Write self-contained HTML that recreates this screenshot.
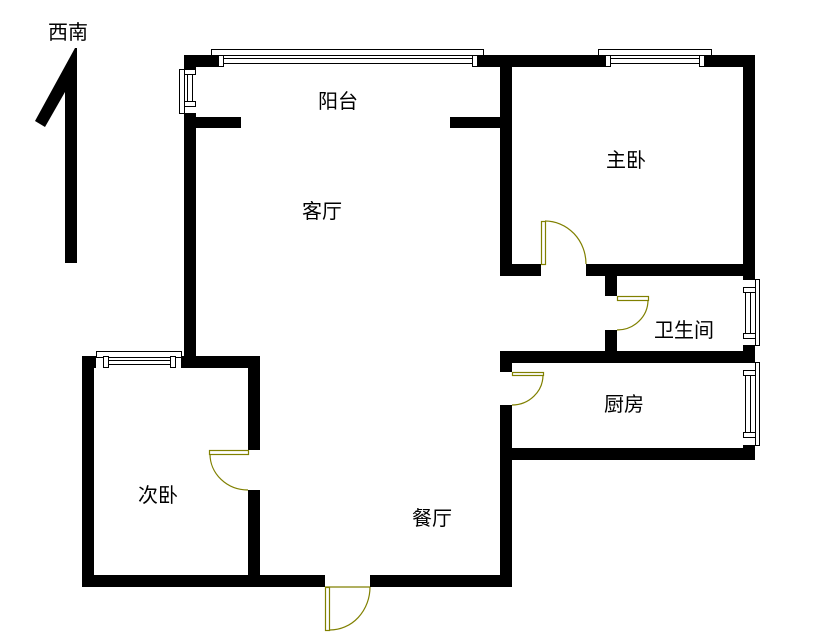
<!DOCTYPE html>
<html><head><meta charset="utf-8"><style>
html,body{margin:0;padding:0;background:#fff;width:823px;height:642px;overflow:hidden}
svg{display:block}
text{font-family:"Liberation Sans","Noto Sans CJK SC","WenQuanYi Zen Hei",sans-serif;font-size:20px;fill:#000}
</style></head><body>
<svg width="823" height="642" viewBox="0 0 823 642" xmlns="http://www.w3.org/2000/svg">
<!-- compass -->
<text x="48" y="39">西南</text>
<polygon points="75,48 77,48 77,263 65,263 65,92 45,127 35,121" fill="#000"/>

<g fill="#000">
<!-- top wall -->
<rect x="184" y="55" width="34" height="12"/>
<rect x="477" y="55" width="128" height="12"/>
<rect x="704" y="55" width="51" height="12"/>
<!-- left wall living -->
<rect x="184" y="55" width="12" height="14"/>
<rect x="184" y="113" width="12" height="255"/>
<!-- balcony stubs -->
<rect x="196" y="117" width="45" height="11"/>
<rect x="450" y="117" width="50" height="11"/>
<!-- balcony/master wall -->
<rect x="500" y="55" width="12" height="221"/>
<!-- master bottom -->
<rect x="500" y="264" width="41" height="12"/>
<rect x="586" y="264" width="169" height="12"/>
<!-- right wall -->
<rect x="743" y="55" width="12" height="225"/>
<rect x="743" y="345" width="12" height="18"/>
<rect x="743" y="445" width="12" height="15"/>
<!-- bathroom left wall -->
<rect x="605" y="276" width="12" height="20"/>
<rect x="605" y="330" width="12" height="21"/>
<!-- bath/kitchen wall -->
<rect x="500" y="351" width="255" height="12"/>
<!-- kitchen left wall -->
<rect x="500" y="351" width="12" height="21"/>
<rect x="500" y="405" width="12" height="182"/>
<!-- kitchen bottom -->
<rect x="500" y="448" width="255" height="12"/>
<!-- bottom wall -->
<rect x="82" y="575" width="243" height="12"/>
<rect x="370" y="575" width="142" height="12"/>
<!-- second bedroom -->
<rect x="82" y="356" width="14" height="12"/>
<rect x="181" y="356" width="79" height="12"/>
<rect x="82" y="356" width="12" height="231"/>
<rect x="248" y="356" width="12" height="94"/>
<rect x="248" y="490" width="12" height="97"/>
</g>

<g fill="#fff" stroke="#000" stroke-width="1">
<!-- balcony window -->
<rect x="211.5" y="49.5" width="272" height="6"/>
<rect x="218.5" y="55.5" width="5" height="11"/>
<rect x="472.5" y="55.5" width="5" height="11"/>
<rect x="223.5" y="58.5" width="249" height="5"/>
<!-- master window -->
<rect x="598.5" y="49.5" width="113" height="6"/>
<rect x="605.5" y="55.5" width="5" height="11"/>
<rect x="699.5" y="55.5" width="5" height="11"/>
<rect x="610.5" y="58.5" width="89" height="5"/>
<!-- left balcony window -->
<rect x="179.5" y="69.5" width="5" height="44"/>
<rect x="184.5" y="69.5" width="11" height="5"/>
<rect x="184.5" y="101.5" width="11" height="5"/>
<rect x="187.5" y="74.5" width="5" height="27"/>
<!-- bath window -->
<rect x="755.5" y="279.5" width="4" height="66"/>
<rect x="743.5" y="287.5" width="12" height="5"/>
<rect x="743.5" y="333.5" width="12" height="5"/>
<rect x="745.5" y="292.5" width="5" height="41"/>
<!-- kitchen window -->
<rect x="755.5" y="362.5" width="4" height="83"/>
<rect x="743.5" y="370.5" width="12" height="5"/>
<rect x="743.5" y="432.5" width="12" height="5"/>
<rect x="745.5" y="375.5" width="5" height="57"/>
<!-- 2nd bedroom window -->
<rect x="96.5" y="351.5" width="85" height="6"/>
<rect x="103.5" y="356.5" width="5" height="11"/>
<rect x="170.5" y="356.5" width="5" height="11"/>
<rect x="108.5" y="360.5" width="62" height="4"/>
</g>

<g fill="none" stroke="#808000" stroke-width="1.2">
<!-- master door -->
<rect x="541.5" y="221.5" width="4" height="43"/>
<path d="M545,221 A41,43 0 0 1 586,264"/>
<!-- bath door -->
<rect x="617.5" y="296.5" width="31" height="4"/>
<path d="M648,300 A31,30 0 0 1 617,330"/>
<!-- kitchen door -->
<rect x="512.5" y="372.5" width="31" height="3"/>
<path d="M543,375 A31,30 0 0 1 512,405"/>
<!-- 2nd bedroom door -->
<rect x="209.5" y="450.5" width="39" height="4"/>
<path d="M210,454 A38,36 0 0 0 248,490"/>
<!-- entrance door -->
<rect x="325.5" y="587.5" width="4" height="43"/>
<path d="M370,587 A40,43 0 0 1 330,630"/>
<line x1="325" y1="587" x2="370" y2="587"/>
</g>

<text x="318" y="108">阳台</text>
<text x="606" y="167">主卧</text>
<text x="302" y="218">客厅</text>
<text x="654" y="337">卫生间</text>
<text x="604" y="411">厨房</text>
<text x="138" y="502">次卧</text>
<text x="412" y="525">餐厅</text>
</svg>
</body></html>
